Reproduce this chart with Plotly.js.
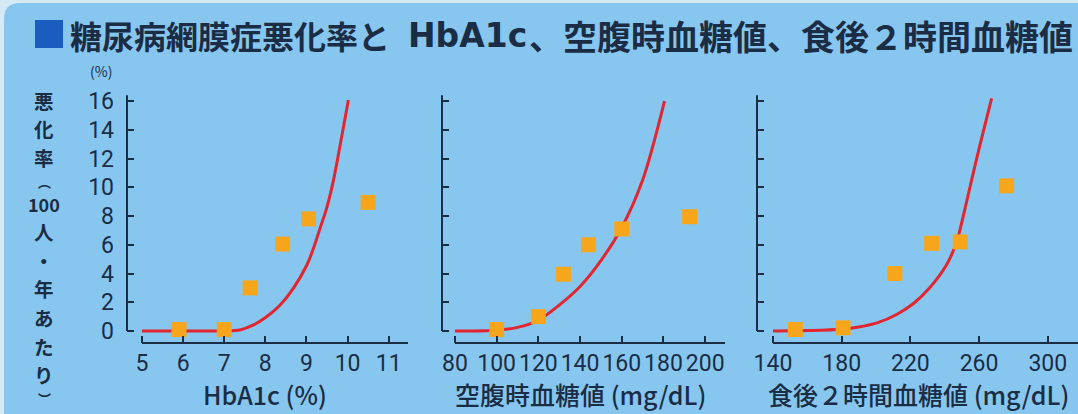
<!DOCTYPE html>
<html><head><meta charset="utf-8">
<script src="https://cdn.plot.ly/plotly-3.0.1.min.js"></script>
<style>html,body{margin:0;padding:0;background:#87c7ef;}#chart{width:1078px;height:414px;}</style>
</head><body><div id="chart"></div>
<script>
// ---- text ----
const titleParts = ["糖尿病網膜症悪化率と", "HbA1c", "、空腹時血糖値、食後２時間血糖値"];
const yLabelChars = ["悪", "化", "率", "︵", "100", "人", "・", "年", "あ", "た", "り", "︶"];
const yUnit = "(%)";
const xTitles = ["HbA1c (%)", "空腹時血糖値 (mg/dL)", "食後２時間血糖値 (mg/dL)"];

// ---- panel 1: HbA1c ----
const hba1cX = [5.9, 7.0, 7.63, 8.42, 9.05, 10.5];
const hba1cY = [0.1, 0.1, 3.0, 6.05, 7.8, 8.95];
const hba1cCurveX = [5, 6, 7, 7.38, 7.71, 8.03, 8.36, 8.68, 9.01, 9.17, 9.33, 9.49, 9.65, 9.82, 10.02];
const hba1cCurveY = [0, 0, 0, 0.07, 0.42, 0.99, 1.81, 2.97, 4.59, 5.75, 7.14, 8.53, 10.39, 12.94, 16.07];

// ---- panel 2: fasting glucose ----
const fastX = [100, 120, 132, 144, 160, 192.5];
const fastY = [0.1, 1.0, 3.95, 6.0, 7.1, 7.95];
const fastCurveX = [80, 100, 110, 120, 130, 140, 150, 160, 170, 180.5];
const fastCurveY = [0, 0.05, 0.25, 0.75, 1.8, 3.1, 4.9, 7.2, 10.5, 16.0];

// ---- panel 3: 2h post-prandial glucose ----
const postX = [153, 180.8, 211, 232.4, 249, 276];
const postY = [0.1, 0.22, 4.0, 6.1, 6.2, 10.1];
const postCurveX = [140, 160, 180, 190, 201, 212, 222, 231, 241, 247, 250, 255, 260.5, 267.3];
const postCurveY = [0, 0.03, 0.12, 0.28, 0.58, 1.15, 1.93, 2.97, 4.59, 6.21, 7.6, 10.16, 12.94, 16.19];

// ---- styling / layout ----
const W = 1078, H = 414;
const ink = "#1b2c45";
const cjk = "'Noto Sans CJK JP', 'Noto Sans', sans-serif";
const num = "Roboto, 'Noto Sans', sans-serif";
const curveColor = "#e2262f";
const markerColor = "#f7a61c";
const px = v => v / W;
const py = v => 1 - v / H;

const yRange = [-0.835, 16.56];
const yDomain = [py(343), py(93)];
const panels = [
  {xd: [px(127), px(408)], range: [4.635, 11.47], tick0: 5, dtick: 1, start: 5, cx: hba1cCurveX, cy: hba1cCurveY, mx: hba1cX, my: hba1cY},
  {xd: [px(442), px(725)], range: [73.8, 209.5], tick0: 80, dtick: 20, start: 80, cx: fastCurveX, cy: fastCurveY, mx: fastX, my: fastY},
  {xd: [px(757), 1], range: [130.7, 317.6], tick0: 140, dtick: 40, start: 140, cx: postCurveX, cy: postCurveY, mx: postX, my: postY}
];

const traces = [];
const layout = {
  width: W, height: H,
  margin: {l: 0, r: 0, t: 0, b: 0, pad: 0},
  paper_bgcolor: "#d6eaf6",
  plot_bgcolor: "#ffffff",
  showlegend: false,
  shapes: [],
  annotations: []
};

// rounded blue panel background
const bx0 = 4, by0 = 3, r = 16;
layout.shapes.push({
  type: "path", xref: "paper", yref: "paper", layer: "below",
  path: `M ${px(bx0)},${py(H + 5)} L ${px(bx0)},${py(by0 + r)} Q ${px(bx0)},${py(by0)} ${px(bx0 + r)},${py(by0)} L ${px(W + 5)},${py(by0)} L ${px(W + 5)},${py(H + 5)} Z`,
  fillcolor: "#87c7ef", line: {width: 0}
});

panels.forEach((p, i) => {
  const n = i === 0 ? "" : String(i + 1);
  const xa = "x" + n, ya = "y" + n;
  traces.push({
    x: p.cx, y: p.cy, xaxis: xa, yaxis: ya, type: "scatter", mode: "lines",
    line: {color: curveColor, width: 3, shape: "spline", smoothing: 0.9},
    hoverinfo: "skip", cliponaxis: false
  });
  traces.push({
    x: p.mx, y: p.my, xaxis: xa, yaxis: ya, type: "scatter", mode: "markers",
    marker: {symbol: "square", size: 15, color: markerColor, line: {width: 0}},
    cliponaxis: false
  });
  layout["xaxis" + n] = {
    domain: p.xd, range: p.range, anchor: ya, showgrid: false, zeroline: false, showline: false,
    ticks: "inside", ticklen: 7, tickwidth: 2, tickcolor: ink, tick0: p.tick0, dtick: p.dtick,
    tickfont: {family: num, size: 23, color: ink}, ticklabelstandoff: 4, fixedrange: true
  };
  layout["yaxis" + n] = {
    domain: yDomain, range: yRange, anchor: xa, showgrid: false, zeroline: false, showline: false,
    ticks: "inside", ticklen: 7, tickwidth: 2, tickcolor: ink, tick0: 0, dtick: 2,
    showticklabels: i === 0, tickfont: {family: num, size: 23, color: ink}, ticklabelstandoff: 12,
    fixedrange: true
  };
  // partial axis lines (y from 0 up, x from first tick to the right)
  layout.shapes.push({type: "line", xref: xa + " domain", yref: ya, x0: 0, x1: 0, y0: 0, y1: 16.4,
    line: {color: ink, width: 2}});
  layout.shapes.push({type: "line", xref: xa, yref: ya + " domain", x0: p.start, x1: p.range[1], y0: 0, y1: 0,
    line: {color: ink, width: 2.2}});
});

// title square + title (three pieces for spacing)
layout.shapes.push({type: "rect", xref: "paper", yref: "paper", x0: px(35), x1: px(63), y0: py(48), y1: py(20),
  fillcolor: "#1a5cc0", line: {width: 0}});
const titleX = [68, 406, 527];
const titleFont = [cjk, "'DejaVu Sans', sans-serif", cjk];
const titleSize = [32, 33, 34];
titleParts.forEach((t, k) => {
  layout.annotations.push({text: t, xref: "paper", yref: "paper", x: px(titleX[k]), y: py(35),
    xanchor: "left", yanchor: "middle", showarrow: false,
    font: {family: titleFont[k], size: titleSize[k], color: ink, weight: "bold"}});
});

// unit
layout.annotations.push({text: yUnit, xref: "paper", yref: "paper", x: px(101), y: py(71),
  xanchor: "center", yanchor: "middle", showarrow: false, font: {family: cjk, size: 14, color: ink}});

// vertical y label: one glyph per annotation, stacked by line-box height
const yLabelSize = yLabelChars.map(c => (c === "︵" || c === "︶") ? 13 : (c === "100" ? 18 : 19.5));
let yCursor = 86;
yLabelChars.forEach((c, k) => {
  const boxH = yLabelSize[k] * 1.448;
  const cy = yCursor + boxH / 2;
  yCursor += boxH + 0.4;
  layout.annotations.push({text: c, xref: "paper", yref: "paper", x: px(44), y: py(cy),
    xanchor: "center", yanchor: "middle", showarrow: false, borderpad: 0,
    font: {family: cjk, size: yLabelSize[k], color: ink, weight: "bold"}});
});

// x titles
const xTitlePos = [265, 580, 918];
xTitles.forEach((t, k) => {
  layout.annotations.push({text: t, xref: "paper", yref: "paper", x: px(xTitlePos[k]), y: py(394),
    xanchor: "center", yanchor: "middle", showarrow: false,
    font: {family: cjk, size: 25, color: ink, weight: 500}});
});

Plotly.newPlot("chart", traces, layout, {displayModeBar: false, staticPlot: true});
</script>
</body></html>
